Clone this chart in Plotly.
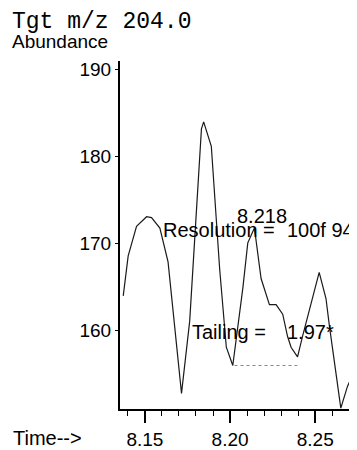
import plotly.graph_objects as go

# Chromatogram trace (retention time, abundance)
times = [8.1373, 8.1402, 8.1451, 8.1510, 8.1539, 8.1588, 8.1636, 8.1715, 8.1763,
         8.1832, 8.1845, 8.1890, 8.1939, 8.1968, 8.1978, 8.2016, 8.2075, 8.2104,
         8.2143, 8.2182, 8.2231, 8.2270, 8.2309, 8.2338, 8.2358, 8.2396, 8.2426,
         8.2523, 8.2563, 8.2582, 8.2650, 8.2689, 8.2740]
abundance = [164.0, 168.6, 172.0, 173.1, 173.0, 171.8, 167.9, 152.8, 161.1,
             183.2, 184.0, 181.2, 167.1, 160.4, 158.1, 156.0, 164.9, 170.1,
             171.8, 166.0, 163.0, 163.0, 161.9, 159.3, 158.1, 157.0, 159.4,
             166.7, 163.7, 160.7, 151.1, 153.6, 155.8]

# integration baseline (dotted)
baseline_t = [8.2026, 8.2395]
baseline_y = [156.0, 156.0]

x_ticks = [8.15, 8.20, 8.25]
x_tick_labels = ["8.15", "8.20", "8.25"]
y_ticks = [160, 170, 180, 190]
y_tick_labels = ["160", "170", "180", "190"]

x_range = [8.1354, 8.2745]
y_range = [151.0, 191.0]

# The page body has an 8px default margin; size the figure so it fills the window.
OFF = 8
W, H = 357 - OFF, 450 - OFF
L, R, T, B = 120 - OFF, 0, 61 - OFF, 450 - 416
PW, PH = W - L - R, H - T - B

def px(xs):
    return (xs - OFF - L) / PW

def py(ys):
    return (H - B - (ys - OFF)) / PH

SANS = "Liberation Sans, Arial, Helvetica, sans-serif"
MONO = "Liberation Mono, Courier New, monospace"
SHIFT = -5

fig = go.Figure()
fig.add_trace(go.Scatter(x=times, y=abundance, mode="lines",
                         line=dict(color="#1a1a1a", width=1.2), hoverinfo="skip"))
fig.add_trace(go.Scatter(x=baseline_t, y=baseline_y, mode="lines",
                         line=dict(color="#888888", width=1, dash="dot"), hoverinfo="skip"))

def note(text, x, y, xanchor="left", paper=False, size=20, family=SANS, yshift=SHIFT, yanchor="middle"):
    d = dict(text=text, x=x, y=y, xanchor=xanchor, yanchor=yanchor, showarrow=False,
             font=dict(family=family, size=size, color="black"), borderpad=0, yshift=yshift)
    if paper:
        d.update(xref="paper", yref="paper")
    return d

ann = [
    note("Tgt m/z 204.0", px(11), py(7), paper=True, size=23, family=MONO, yshift=0, yanchor="top"),
    note("Abundance", px(11), py(41), paper=True, size=19, yshift=0),
    note("Time-->", px(12), py(440), paper=True),
    note("8.218", 8.2190, 173.8, xanchor="center"),
    note("Resolution =", 8.1598, 172.2),
    note("100f 94", 8.2329, 172.2),
    note("Tailing =", 8.1773, 160.4),
    note("1.97*", 8.2329, 160.4),
]

fig.update_layout(
    width=W, height=H,
    margin=dict(l=L, r=R, t=T, b=B, pad=0),
    paper_bgcolor="white", plot_bgcolor="white",
    showlegend=False,
    annotations=ann,
    xaxis=dict(range=x_range, tickvals=x_ticks, ticktext=x_tick_labels,
               ticks="outside", ticklen=12, tickwidth=1.5, tickcolor="black",
               showline=True, linecolor="black", linewidth=2,
               showgrid=False, zeroline=False,
               tickfont=dict(family=SANS, size=19, color="black"),
               minor=dict(dtick=0.01, tick0=8.15, ticks="outside", ticklen=5,
                          tickwidth=1.2, tickcolor="black", showgrid=False)),
    yaxis=dict(range=y_range, tickvals=y_ticks, ticktext=y_tick_labels,
               ticks="outside", ticklen=3, tickwidth=1, tickcolor="black",
               showline=True, linecolor="black", linewidth=2,
               showgrid=False, zeroline=False,
               tickfont=dict(family=SANS, size=19, color="black")),
)

fig.write_html("out.html")
